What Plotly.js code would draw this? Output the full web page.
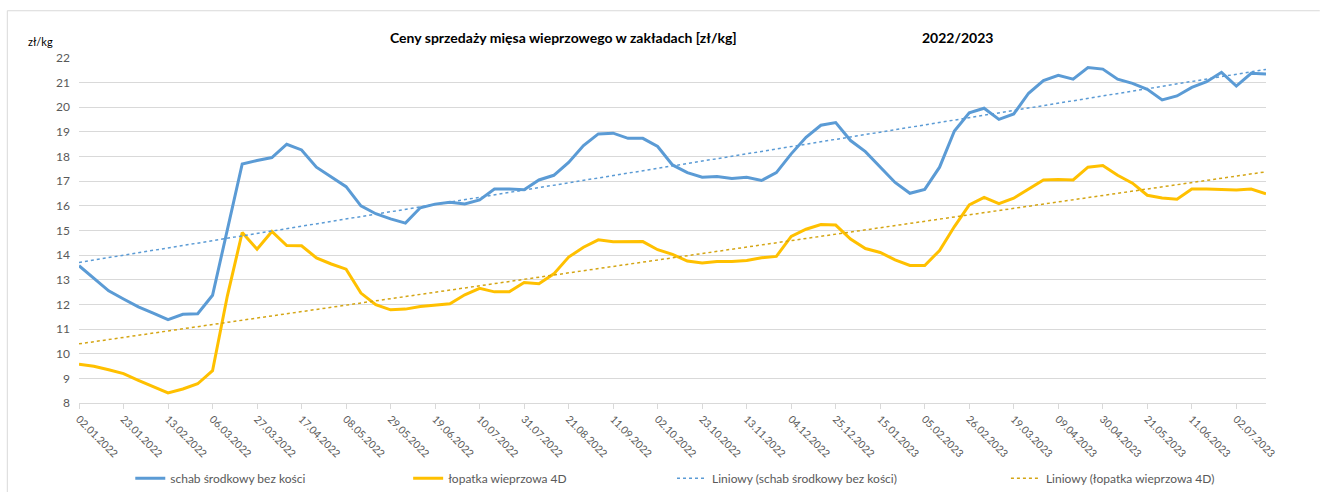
<!DOCTYPE html>
<html>
<head>
<meta charset="utf-8">
<script src="https://cdn.plot.ly/plotly-3.0.1.min.js"></script>
<style>
html,body{margin:0;padding:0;background:#fff;}
#chart{width:1328px;height:492px;}
</style>
</head>
<body>
<div id="chart"></div>
<script>
// Weekly dates (categories)
const weeks = [
"02.01.2022","09.01.2022","16.01.2022","23.01.2022","30.01.2022","06.02.2022","13.02.2022","20.02.2022","27.02.2022",
"06.03.2022","13.03.2022","20.03.2022","27.03.2022","03.04.2022","10.04.2022","17.04.2022","24.04.2022","01.05.2022",
"08.05.2022","15.05.2022","22.05.2022","29.05.2022","05.06.2022","12.06.2022","19.06.2022","26.06.2022","03.07.2022",
"10.07.2022","17.07.2022","24.07.2022","31.07.2022","07.08.2022","14.08.2022","21.08.2022","28.08.2022","04.09.2022",
"11.09.2022","18.09.2022","25.09.2022","02.10.2022","09.10.2022","16.10.2022","23.10.2022","30.10.2022","06.11.2022",
"13.11.2022","20.11.2022","27.11.2022","04.12.2022","11.12.2022","18.12.2022","25.12.2022","01.01.2023","08.01.2023",
"15.01.2023","22.01.2023","29.01.2023","05.02.2023","12.02.2023","19.02.2023","26.02.2023","05.03.2023","12.03.2023",
"19.03.2023","26.03.2023","02.04.2023","09.04.2023","16.04.2023","23.04.2023","30.04.2023","07.05.2023","14.05.2023",
"21.05.2023","28.05.2023","04.06.2023","11.06.2023","18.06.2023","25.06.2023","02.07.2023","09.07.2023","16.07.2023"
];

// schab środkowy bez kości [zł/kg]
const schab = [
13.57,13.05,12.55,12.22,11.90,11.65,11.38,11.60,11.62,
12.37,15.00,17.70,17.84,17.96,18.50,18.27,17.57,17.19,
16.78,16.00,15.68,15.47,15.30,15.92,16.07,16.15,16.08,
16.24,16.68,16.68,16.65,17.05,17.24,17.76,18.45,18.92,
18.95,18.74,18.74,18.41,17.66,17.35,17.16,17.19,17.11,
17.16,17.03,17.35,18.11,18.78,19.27,19.38,18.65,18.20,
17.59,16.95,16.51,16.67,17.57,19.04,19.78,19.96,19.51,
19.73,20.57,21.08,21.30,21.14,21.61,21.55,21.14,20.97,
20.73,20.30,20.46,20.81,21.04,21.42,20.86,21.38,21.35
];

// łopatka wieprzowa 4D [zł/kg]
const lopatka = [
9.57,9.49,9.35,9.19,8.92,8.65,8.41,8.57,8.78,
9.31,12.35,14.92,14.24,14.96,14.39,14.38,13.89,13.64,
13.43,12.46,11.99,11.78,11.81,11.92,11.99,12.03,12.39,
12.65,12.51,12.51,12.89,12.84,13.24,13.92,14.32,14.62,
14.54,14.53,14.55,14.22,14.03,13.76,13.68,13.74,13.74,
13.78,13.89,13.95,14.76,15.05,15.24,15.22,14.65,14.27,
14.11,13.81,13.58,13.58,14.19,15.16,16.04,16.34,16.09,
16.31,16.68,17.05,17.07,17.05,17.57,17.64,17.24,16.92,
16.43,16.32,16.27,16.68,16.68,16.65,16.64,16.68,16.49
];

// x tick labels (every third week)
const tickLabels = [
"02.01.2022","23.01.2022","13.02.2022","06.03.2022","27.03.2022","17.04.2022","08.05.2022","29.05.2022","19.06.2022",
"10.07.2022","31.07.2022","21.08.2022","11.09.2022","02.10.2022","23.10.2022","13.11.2022","04.12.2022","25.12.2022",
"15.01.2023","05.02.2023","26.02.2023","19.03.2023","09.04.2023","30.04.2023","21.05.2023","11.06.2023","02.07.2023"
];

const seriesNames = ["schab środkowy bez kości","łopatka wieprzowa 4D"];
const trendNames = ["Liniowy (schab środkowy bez kości)","Liniowy (łopatka wieprzowa 4D)"];

// Linear trend (least squares on week index), as in the spreadsheet trendline
function linTrend(vals){
  const n = vals.length;
  let sx=0, sy=0, sxx=0, sxy=0;
  vals.forEach((v,i)=>{sx+=i; sy+=v; sxx+=i*i; sxy+=i*v;});
  const b = (n*sxy - sx*sy)/(n*sxx - sx*sx);
  const a = (sy - b*sx)/n;
  return vals.map((v,i)=>a+b*i);
}

const BLUE = "#5B9BD5", GOLD = "#FFC000", GOLD_TREND = "#D4A514";
const FONT = "Lato, 'Open Sans', 'Liberation Sans', sans-serif";
const GRAY = "#595959";

const traces = [
  {x:weeks, y:schab, type:"scatter", mode:"lines", name:seriesNames[0],
   line:{color:BLUE, width:3}, legend:"legend"},
  {x:weeks, y:lopatka, type:"scatter", mode:"lines", name:seriesNames[1],
   line:{color:GOLD, width:3}, legend:"legend2"},
  {x:weeks, y:linTrend(schab), type:"scatter", mode:"lines", name:trendNames[0],
   line:{color:BLUE, width:1.5, dash:"dot"}, legend:"legend3"},
  {x:weeks, y:linTrend(lopatka), type:"scatter", mode:"lines", name:trendNames[1],
   line:{color:GOLD_TREND, width:1.5, dash:"dot"}, legend:"legend4"}
];

const legBase = {orientation:"h", yref:"container", y:0.028, yanchor:"middle",
  xref:"paper", xanchor:"left",
  font:{family:FONT, size:12, color:GRAY}, bgcolor:"rgba(0,0,0,0)", borderwidth:0,
  itemwidth:30, tracegroupgap:0};

const layout = {
  width:1328, height:492,
  margin:{l:78.7, r:61.8, t:58.3, b:88.7, autoexpand:false},
  paper_bgcolor:"#fff", plot_bgcolor:"#fff",
  font:{family:FONT, color:GRAY},
  showlegend:true,
  legend:Object.assign({}, legBase, {x:0.0432}),
  legend2:Object.assign({}, legBase, {x:0.2773}),
  legend3:Object.assign({}, legBase, {x:0.4996}),
  legend4:Object.assign({}, legBase, {x:0.7809}),
  xaxis:{
    type:"category", range:[0, weeks.length-1],
    tickmode:"array", tickvals:tickLabels, ticktext:tickLabels,
    tickangle:45, tickfont:{family:FONT, size:10.5, color:GRAY},
    ticks:"outside", ticklen:5, tickcolor:"#d9d9d9", tickwidth:1,
    showgrid:false, showline:true, linecolor:"#d9d9d9", linewidth:1,
    zeroline:false, fixedrange:true, automargin:false
  },
  yaxis:{
    range:[8,22], dtick:1, tick0:8,
    tickfont:{family:FONT, size:12, color:GRAY},
    showgrid:true, gridcolor:"#d9d9d9", gridwidth:1,
    showline:false, zeroline:false, ticks:"", ticklabelstandoff:8,
    fixedrange:true, automargin:false
  },
  annotations:[
    {text:"<b>Ceny sprzedaży mięsa wieprzowego w zakładach [zł/kg]</b>", xref:"paper", yref:"paper",
     x:0.408, y:1.059, xanchor:"center", yanchor:"middle", showarrow:false,
     font:{family:FONT, size:14, color:"#000"}},
    {text:"<b>2022/2023</b>", xref:"paper", yref:"paper",
     x:0.7405, y:1.059, xanchor:"center", yanchor:"middle", showarrow:false,
     font:{family:FONT, size:14, color:"#000"}},
    {text:"zł/kg", xref:"paper", yref:"paper",
     x:-0.0326, y:1.047, xanchor:"center", yanchor:"middle", showarrow:false,
     font:{family:FONT, size:11, color:"#000"}}
  ],
  shapes:[
    {type:"line", xref:"paper", yref:"paper", x0:-0.0604, x1:-0.0604, y0:1.137, y1:-0.26,
     line:{color:"#d9d9d9", width:1}},
    {type:"line", xref:"paper", yref:"paper", x0:-0.0604, x1:1.0453, y0:1.137, y1:1.137,
     line:{color:"#d9d9d9", width:1}}
  ]
};

Plotly.newPlot("chart", traces, layout, {displayModeBar:false, staticPlot:true});
</script>
</body>
</html>
